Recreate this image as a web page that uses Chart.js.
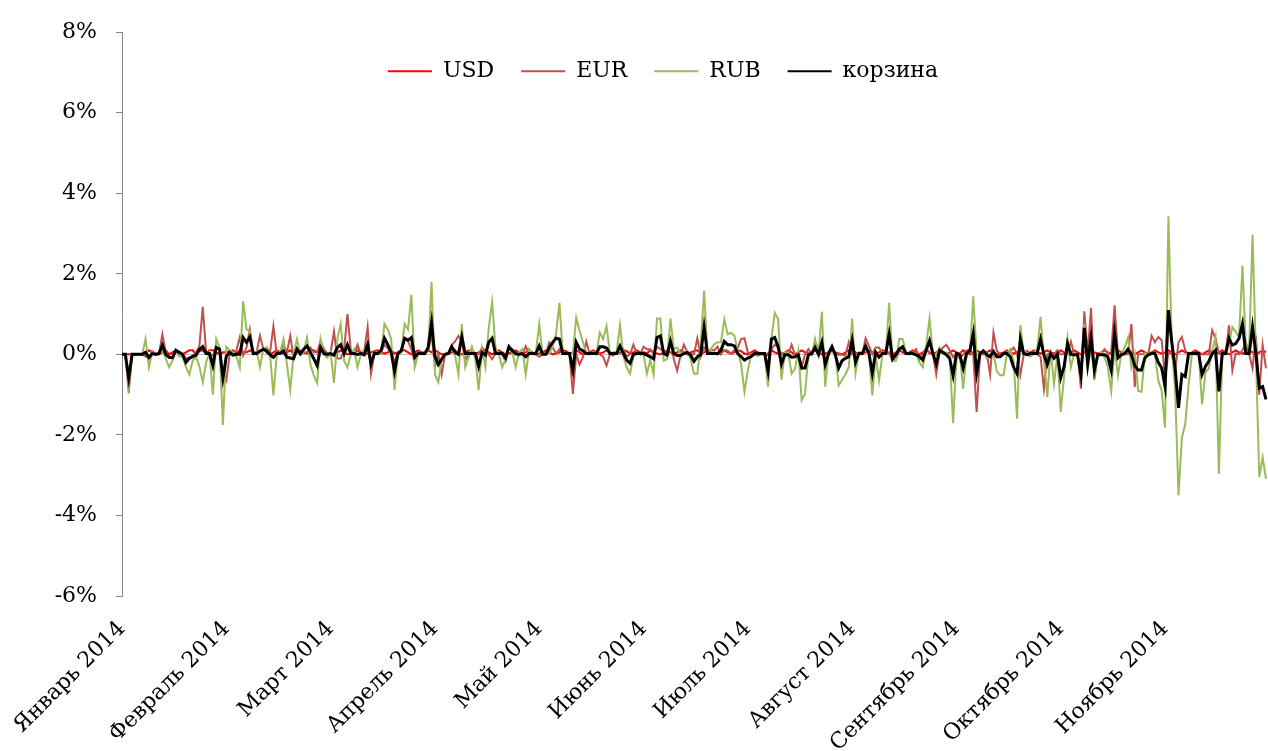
<!DOCTYPE html>
<html>
<head>
<meta charset="utf-8">
<script src="https://cdn.jsdelivr.net/npm/chart.js@4.4.1/dist/chart.umd.min.js"></script>
<style>
  html, body { margin: 0; padding: 0; background: #fff; }
  #wrap { width: 1268px; height: 751px; }
</style>
</head>
<body>
<div id="wrap"><canvas id="myChart"></canvas></div>
<script>
// month labels, one label every 31 daily points
const months = ['Январь 2014', 'Февраль 2014', 'Март 2014', 'Апрель 2014', 'Май 2014', 'Июнь 2014',
    'Июль 2014', 'Август 2014', 'Сентябрь 2014', 'Октябрь 2014', 'Ноябрь 2014'];
const pointsPerMonth = 31;

// daily change, % (one line per month)
const usd = [
    0,0,0,0,0,0,0,0.02,0.1,0.05,0,0,0.05,0.1,0,0.05,0.1,0.05,0,0.05,0.1,0.1,0,0.08,0.1,0.02,0.1,0.1,0.05,0,0.05,
    0.05,0.08,0.1,0.02,0.1,0.05,0.05,0.1,0.05,0,0.1,0.12,0.05,0,0.05,0.1,0.05,0.02,0.05,0.1,0.02,0.05,0.1,0.05,0.02,0.1,0.1,0.05,0.05,0.1,0.02,
    0,0.02,0.05,0.1,0.05,0,0.02,0.05,0.1,0.05,0,0.02,0.05,0.08,0.1,0.05,0.02,0.05,0.1,0.02,0.05,0.1,0.1,0.05,0,0.05,0.1,0.05,0.02,0.1,0.05,
    0.1,0.05,0,0,0.02,0.05,0.1,0.02,0,0.05,0.1,0.05,0.02,0.05,0.08,0.1,0.05,0,0.05,0.1,0.05,0,0.02,0.05,0.1,0.05,0.02,0.05,0.1,0.05,0,
    0.02,0.05,0.1,0.05,0,0.02,0.05,0.1,0.08,0.02,0.05,0.1,0.05,0,0.02,0.05,0.1,0.05,0.02,0.05,0.1,0.05,0,0.02,0.05,0.1,0.08,0.02,0.05,0.1,0.05,
    0.05,0.02,0.1,0.05,0.02,0,0.05,0.1,0.05,0.02,0.05,0.1,0.05,0,0.05,0.08,0.1,0.02,0.05,0.1,0.05,0.02,0,0.05,0.1,0.05,0.02,0.05,0.1,0.08,0.02,
    0,0.05,0.1,0.05,0.02,0,0.02,0.1,0.05,0.02,0,0.05,0.1,0.05,0,0.05,0.1,0.05,0.02,0.05,0.1,0.05,0,0.02,0.05,0.1,0.05,0.02,0,0.05,0.1,
    0.1,0.05,0,0.02,0.05,0.1,0.05,0.02,0.05,0.1,0.08,0.02,0,0.05,0.1,0.05,0.02,0.05,0.1,0.05,0,0.05,0.1,0.05,0.02,0.05,0.1,0.05,0,0.05,0.1,
    0.05,0.02,0.1,0.05,0,0.05,0.1,0.05,0.02,0.05,0.1,0.05,0,0.02,0.05,0.1,0.05,0.02,0.05,0.1,0.05,0,0.05,0.1,0.05,0.02,0.05,0.1,0.05,0.02,0.05,
    0.1,0.05,0.02,0.05,0.1,0.05,0,0.05,0.1,0.1,0.05,0.02,0.05,0.1,0.05,0,0.05,0.1,0.05,0.02,0.1,0.05,0,0.05,0.1,0.05,0.02,0.05,0.1,0.05,0.02,
    0.05,0.1,0.05,0,0.05,0.1,0.05,0.02,0.05,0.1,0.05,0,0.05,0.1,0.05,0.02,0.05,0.1,0.05,0,0.05,0.1,0.05,0.02,0.05,0.1,0.05,0,0.05,0.1,0.05
];
const eur = [
    0,0,-0.96,0,0,0,0,-0.05,-0.1,0.08,0.02,0.02,0.5,0.05,-0.05,-0.08,0.12,0.05,0,-0.1,-0.08,-0.08,0.05,0.2,1.18,0.05,0,-0.03,0.17,0.13,-0.48,
    -0.65,0,0,0.1,0.42,-0.03,0.17,0.62,0.05,0.05,0.46,0.13,0.17,0.05,0.7,0,0.05,0.25,0.05,0.46,-0.07,0.13,0.05,0.05,0.05,0.17,0.05,0.05,0.33,0.13,0,
    0.05,0.57,-0.1,-0.1,0.1,1.0,0.1,0,0.24,0,0.08,0.68,-0.48,0.02,0.02,0.05,0.24,0.15,0.05,-0.2,0.05,0.05,0.38,0.33,0.13,-0.2,0.05,0.05,0.05,0.1,0.5,
    -0.32,0,-0.5,0,0.02,0.24,0.32,0.46,0.3,-0.14,0,0.13,0,0,0.17,0.1,0,-0.12,0.02,0.02,0,-0.17,0.17,0.13,0,0.02,0,0.2,0.02,0,0,
    -0.06,0,0.02,0.3,0.17,0.02,0.13,0.02,0.02,0,-0.98,0,-0.25,-0.07,0.32,0,0.02,0,0,-0.06,-0.28,0,-0.03,0.05,0.02,0.13,-0.06,0,0.24,0.02,0,
    0.19,0.13,0.13,0.02,0.19,0.13,0.09,0.02,0.38,-0.12,-0.4,-0.03,0.24,0.05,0,0,0.4,-0.06,0.17,0.02,0.13,0.09,0.19,0,0.11,0.09,0.02,0.1,0.17,0.38,0.4,
    0.05,0,0,-0.03,0,0,-0.03,0.13,0.24,0.17,0.02,-0.03,0,0.24,0,0,-0.32,0,0.13,0,0.24,0.21,0.17,-0.25,0.02,0.09,0.02,-0.01,-0.01,-0.03,0.3,
    0,0.02,0.02,0,0.4,0.21,0,0.17,0.17,0.02,0.02,0.05,-0.17,-0.12,0.1,0.17,0.02,0,0.05,0.13,-0.12,0,0.17,0.02,0.02,-0.5,0.07,0.17,0.24,0.1,-0.07,
    0,-0.1,0,0.09,0.13,0,-1.43,0,0,0.05,-0.5,0.54,0.09,0,0.02,0.02,0.07,0.17,0.02,-0.5,0,0.09,0.02,0.02,0,-0.06,-0.85,0,0.02,0,0.1,
    0,0,0.02,0.32,0,0,-0.85,1.07,0.02,1.15,-0.63,0,0.02,0.13,0.02,0.05,1.22,0,0,0,0,0.75,-0.81,0,0,0.02,0,0.46,0.3,0.43,0.35,
    -0.6,0.05,0,-0.42,0.3,0.43,0.1,0,0,0,0,0,0,0,0.6,0.4,0.02,0,0,0.72,-0.4,0.02,0,0.1,0.3,0,-0.35,0.47,-1.0,0.23,-0.35
];
const rub = [
    0,0,-0.8,0,0,0,0,0.38,-0.32,0.05,0,0,0.1,-0.1,-0.32,-0.15,0.1,-0.05,-0.05,-0.32,-0.5,-0.16,-0.05,-0.3,-0.69,-0.2,0.05,-1.0,0.38,0.17,-1.75,
    0.19,0.1,0.05,-0.05,-0.32,1.32,0.62,0.58,0,0.08,-0.32,0.13,0.17,0,-1.02,0,0.05,0.38,-0.24,-0.88,0,0.38,0,0.08,0.42,-0.24,-0.52,-0.71,0.38,0,-0.08,
    0.05,-0.71,0.38,0.76,-0.16,-0.32,0,0.13,-0.32,0,0.13,0.15,-0.24,0,0,0,0.76,0.62,0.38,-0.88,0,0.05,0.76,0.62,1.48,-0.32,0,0,0,0.13,1.8,
    -0.5,-0.69,-0.16,0,0,0.19,-0.03,-0.5,0.75,-0.32,-0.08,0.19,-0.1,-0.88,0.13,-0.32,0.66,1.3,0.17,0,-0.32,-0.12,0.13,0.05,-0.32,0.05,0.13,-0.5,0.13,0.02,0.05,
    0.75,0,0,0.02,0.2,0.5,1.28,0.02,0,0,0.02,0.91,0.58,0.3,0.02,0.02,0.05,0.02,0.54,0.38,0.7,0.02,0.05,0.05,0.73,-0.05,-0.32,-0.48,-0.03,0.02,0,
    0,-0.48,-0.14,-0.5,0.89,0.89,-0.16,-0.12,0.89,0.13,0.17,0.02,0.05,0.09,-0.12,-0.48,-0.48,0.25,1.58,0.05,0.13,0.25,0.3,0.3,0.87,0.5,0.54,0.46,0.09,-0.24,-0.93,
    -0.4,0,0,0,0,0,-0.8,0.38,1.03,0.87,-0.63,0.05,0.05,-0.48,-0.36,0.09,-1.14,-0.98,0,0.02,0.38,0,1.06,-0.8,0.05,0.19,0,-0.77,-0.63,-0.5,-0.32,
    0.89,-0.47,0.05,0.05,0.17,0.02,-1.02,-0.03,-0.65,0,0.02,1.28,-0.16,-0.16,0.38,0.38,0.05,0.02,0.02,0.02,-0.2,-0.32,0.2,0.89,0.02,-0.01,0.17,0.02,0.05,-0.03,-1.71,
    -0.1,0,-0.85,0,0.05,1.44,-0.01,0,0.09,-0.09,0.02,0.02,-0.42,-0.52,-0.52,0.02,0.13,-0.16,-1.6,0.73,0.02,0,-0.06,0.02,0.13,0.93,-0.12,-1.06,0.13,-0.73,0,
    -1.43,-0.55,0.4,-0.32,0.02,0,-0.69,0.76,-0.36,0.17,-0.5,0,0.05,-0.07,-0.32,-0.91,0.17,-0.52,0,0.17,0.42,-0.32,0.02,-0.91,-0.93,0.02,0.02,0.02,0,-0.65,-0.9,
    -1.82,3.43,0.23,-0.92,-3.5,-2.07,-1.73,-0.75,0.02,0,0,-1.24,-0.45,-0.35,0.1,0.43,-2.97,0,0,0.25,0.68,0.56,0.43,2.2,0.23,0.15,2.97,0,-3.05,-2.56,-3.09
];
const basket = [
    0,0,-0.59,0,0,0,0,0.05,-0.08,0.02,0,0.02,0.23,0,-0.07,-0.08,0.1,0.05,0,-0.2,-0.1,-0.05,-0.02,0.12,0.19,0.02,0.02,-0.28,0.17,0.13,-0.59,
    -0.05,0.05,-0.02,0,0,0.42,0.3,0.43,0.02,0.02,0.08,0.13,0.09,-0.01,-0.07,0.02,0.02,0.09,-0.07,-0.09,-0.11,0.13,0.01,0.13,0.21,0.05,-0.11,-0.28,0.17,0.02,0,
    0.02,-0.02,0.17,0.24,0.02,0.24,0.02,0.02,0,0.02,-0.01,0.24,-0.24,0.02,0.02,0.1,0.4,0.24,0.05,-0.42,0.02,0.09,0.4,0.35,0.42,-0.07,0.02,0.02,0.02,0.17,0.79,
    -0.05,-0.25,-0.12,0,0.02,0.19,0.05,0,0.43,0.02,0.02,0.02,0.02,-0.3,0.05,-0.02,0.3,0.4,0.02,0.02,0.02,-0.09,0.19,0.09,0.02,0,0.02,-0.06,0.02,0.02,0.02,
    0.21,0,0,0.17,0.3,0.4,0.38,0.02,0.02,0.02,-0.4,0.3,0.13,0.09,0.02,0.02,0.02,0.02,0.19,0.19,0.16,0.02,0.02,0.02,0.21,0.02,-0.14,-0.22,0,0.02,0.02,
    0.02,-0.02,-0.06,-0.11,0.42,0.46,0.02,-0.02,0.32,0.02,-0.03,-0.03,0.02,0.05,-0.02,-0.17,-0.06,0,0.68,0.02,0.02,0.02,0.02,0.1,0.32,0.24,0.24,0.21,0.02,-0.06,-0.14,
    -0.09,-0.05,0.02,0.02,0.02,0.02,-0.42,0.38,0.42,0.19,-0.24,-0.01,-0.01,-0.07,-0.06,-0.01,-0.34,-0.34,-0.01,0.02,0.17,0,0.3,-0.25,0.02,0.19,-0.01,-0.34,-0.16,-0.1,-0.06,
    0.35,-0.2,0.02,0.02,0.21,0.02,-0.47,0.05,-0.07,0.02,0.02,0.5,-0.11,-0.01,0.13,0.19,0.02,0.02,0.02,-0.01,-0.06,-0.14,0.1,0.34,0.02,-0.24,0.1,0.05,-0.01,-0.1,-0.52,
    0.02,-0.01,-0.34,0.02,0.09,0.52,-0.47,0.02,0.09,-0.01,-0.06,0.07,-0.06,-0.06,0.02,0.02,-0.06,-0.32,-0.48,0.38,0.02,-0.01,0.02,0.02,0.02,0.38,-0.01,-0.25,0.02,-0.1,0,
    -0.58,-0.3,0.27,0,-0.01,-0.01,-0.52,0.66,-0.24,0.42,-0.39,-0.01,-0.01,-0.01,-0.06,-0.39,0.54,-0.09,-0.01,0.02,0.13,-0.01,-0.28,-0.39,-0.39,-0.09,-0.01,0.02,0.02,-0.2,-0.34,
    -0.8,1.1,0.3,-0.35,-1.33,-0.5,-0.55,0.02,0.02,0.02,0.02,-0.5,-0.3,-0.17,0.02,0.1,-0.92,0.02,0.02,0.4,0.23,0.27,0.4,0.76,0.02,0.02,0.68,0.02,-0.84,-0.8,-1.12
];

const yMin = -6;
const yMax = 8;
const yStep = 2;

const labels = [];
months.forEach(m => {
    for (let d = 0; d < pointsPerMonth; d++) labels.push(d === 0 ? m : '');
});

const serif = 'DejaVu Serif';

// legend sits inside the plot, so it takes no height in the layout
const legendInside = {
    id: 'legendInside',
    beforeInit(chart) {
        const fit = chart.legend.fit;
        chart.legend.fit = function () {
            fit.call(this);
            this.height = 0;
        };
    },
    afterLayout(chart) {
        const lg = chart.legend;
        lg.left += 60;
        lg.top += 1;
        lg.height = 70;
        lg.bottom = lg.top + lg.height;
    }
};

const ctx = document.getElementById('myChart').getContext('2d');
const myChart = new Chart(ctx, {
    type: 'line',
    data: {
        labels: labels,
        datasets: [
            { label: 'USD', data: usd, borderColor: '#FF0000', backgroundColor: '#FF0000', borderWidth: 2, order: 3 },
            { label: 'EUR', data: eur, borderColor: '#C0504D', backgroundColor: '#C0504D', borderWidth: 2, order: 2 },
            { label: 'RUB', data: rub, borderColor: '#9BBB59', backgroundColor: '#9BBB59', borderWidth: 2, order: 1 },
            { label: 'корзина', data: basket, borderColor: '#000000', backgroundColor: '#000000', borderWidth: 3, order: 0 }
        ]
    },
    plugins: [legendInside],
    options: {
        responsive: true,
        maintainAspectRatio: false,
        animation: false,
        layout: { padding: { top: 27, right: 2, left: 0, bottom: 0 } },
        elements: {
            point: { radius: 0 },
            line: { tension: 0 }
        },
        plugins: {
            tooltip: { enabled: false },
            legend: {
                position: 'top',
                labels: {
                    boxWidth: 44,
                    boxHeight: 2,
                    padding: 27,
                    color: '#000',
                    font: { family: serif, size: 22 },
                    sort: (a, b) => a.datasetIndex - b.datasetIndex,
                    generateLabels(chart) {
                        return Chart.defaults.plugins.legend.labels.generateLabels(chart)
                            .map(item => Object.assign(item, { lineWidth: 0 }));
                    }
                }
            }
        },
        scales: {
            x: {
                grid: { display: false },
                border: { display: false },
                ticks: {
                    autoSkip: false,
                    minRotation: 45,
                    maxRotation: 45,
                    padding: 12,
                    color: '#000',
                    font: { family: serif, size: 22 },
                    callback: (val, i) => labels[i] || null
                },
                afterFit(scale) {
                    scale.height = 155;
                    scale.paddingLeft = 0;
                    scale.paddingRight = 0;
                }
            },
            y: {
                min: yMin,
                max: yMax,
                border: { display: true, color: '#868686', width: 1 },
                grid: {
                    drawOnChartArea: true,
                    drawTicks: true,
                    tickLength: 6,
                    tickColor: '#868686',
                    color: c => (c.tick && c.tick.value === 0) ? '#bfbfbf' : 'rgba(0,0,0,0)'
                },
                ticks: {
                    stepSize: yStep,
                    padding: 19,
                    color: '#000',
                    font: { family: serif, size: 22 },
                    callback: v => v + '%'
                },
                afterFit(scale) {
                    scale.width = 122;
                }
            }
        }
    }
});
</script>
</body>
</html>
